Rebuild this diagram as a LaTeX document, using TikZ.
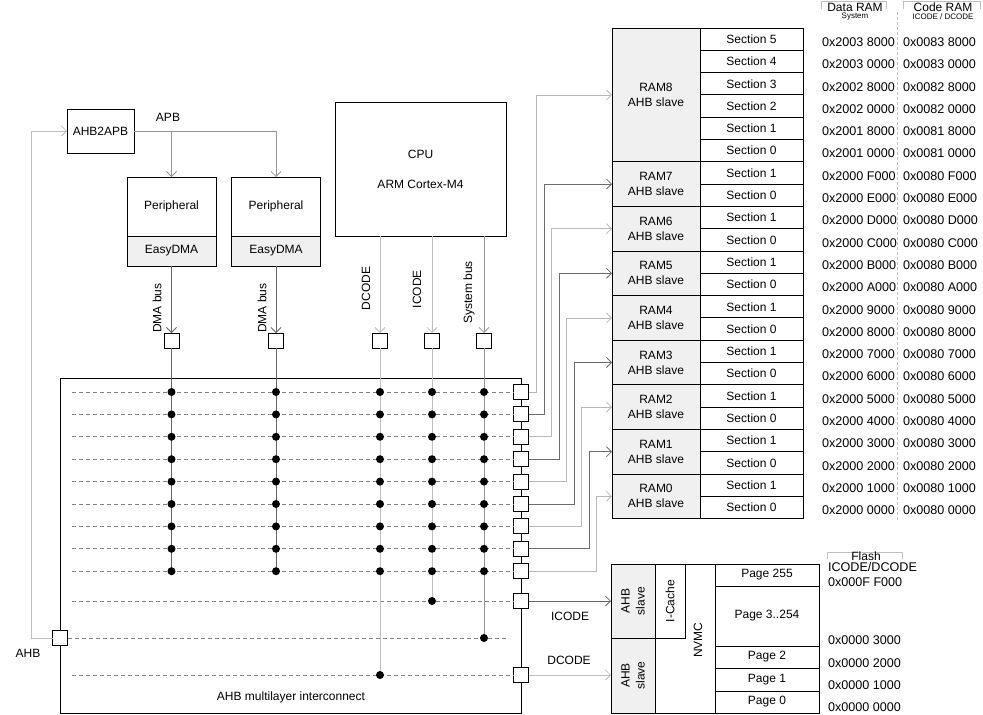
\documentclass[tikz,border=0pt]{standalone}
\usepackage{fontspec}
\setmainfont{Liberation Sans}
\usetikzlibrary{arrows.meta}

\begin{document}
\begin{tikzpicture}[x=1pt,y=-1pt]
	\tikzstyle{every node}=[inner sep=0pt, outer sep=0pt, font=\fontsize{12}{15}\selectfont]
	\tikzstyle{box}=[draw, line width=1pt, align=center]
	\tikzstyle{greybox}=[box, fill=black!6]
	\tikzstyle{port}=[draw, line width=1pt, fill=white, minimum size=15pt]
	\tikzstyle{dot}=[circle, fill=black, minimum size=8pt]
	\tikzstyle{barb}=[-{Straight Barb[length=5pt,width=10pt]}]
	\tikzstyle{dbus}=[draw=black!60, line width=0.8pt]
	\tikzstyle{mbus}=[draw=black!42, line width=0.8pt]
	\tikzstyle{lbus}=[draw=black!25, line width=0.8pt]
	\tikzstyle{rowline}=[draw=black!50, line width=0.7pt, dash pattern=on 4pt off 3pt]
	\tikzstyle{smalltxt}=[font=\fontsize{8}{9}\selectfont]
	\tikzstyle{addr}=[anchor=west, font=\fontsize{12.6}{15}\selectfont]
	\tikzstyle{sect}=[box, minimum width=103pt, minimum height=22.3pt]
	\tikzstyle{ramlbl}=[greybox, minimum width=88pt]
	\tikzstyle{page}=[box, minimum width=104pt]

	\useasboundingbox (0,0) rectangle (983,715);

	\node[box, minimum width=67pt, minimum height=44pt] (apb) at (100.5,131) {AHB2APB};
	\node (apblbl) at (168,117) {APB};
	\foreach \n/\x in {1/171.5,2/276}{
		\node[box, minimum width=89pt, minimum height=59pt] (per\n) at (\x,206.5) {Peripheral};
		\node[greybox, minimum width=89pt, minimum height=30pt, anchor=north] (easy\n) at (per\n.south) {EasyDMA};
	}
	\node[box, minimum width=171pt, minimum height=134pt] (cpu) at (420.5,169) {CPU\\[15pt]ARM Cortex-M4};

	\node[box, minimum width=461pt, minimum height=335pt, anchor=north west] (ic) at (60,378) {};
	\node (iclbl) at (291,697) {AHB multilayer interconnect};

	\foreach \c/\x in {1/171.5,2/276,3/380,4/432,5/484}
		\node[port] (p\c) at (\x,340.5) {};
	\foreach \i in {0,...,8}
		\node[port] (r\i) at (521,{392+22.4*\i}) {};
	\node[port] (ri) at (521,601) {};
	\node[port] (rd) at (521,675) {};
	\node[port] (pa) at (60,638) {};
	\coordinate (lft) at (72,0);
	\coordinate (ahbend) at (507,638);

	\foreach \r in {r0,r1,r2,r3,r4,r5,r6,r7,r8,ri,rd}
		\draw[rowline] (\r.west -| lft) -- (\r.west);
	\draw[rowline] (pa.east) -- (ahbend);

	\draw[dbus] (p1.south) -- (p1 |- r8);
	\draw[dbus] (p2.south) -- (p2 |- r8);
	\draw[lbus] (p3.south) -- (p3 |- rd);
	\draw[lbus] (p4.south) -- (p4 |- ri);
	\draw[mbus] (p5.south) -- (p5 |- pa);
	\foreach \i in {0,...,8}
		\foreach \c in {1,...,5}
			\node[dot] at (p\c |- r\i) {};
	\node[dot] at (p4 |- ri) {};
	\node[dot] at (p5 |- pa) {};
	\node[dot] at (p3 |- rd) {};

	\draw[dbus,barb] (easy1.south) -- (p1.north);
	\draw[dbus,barb] (easy2.south) -- (p2.north);
	\draw[lbus,barb] (cpu.south -| p3) -- (p3.north);
	\draw[lbus,barb] (cpu.south -| p4) -- (p4.north);
	\draw[mbus,barb] (cpu.south -| p5) -- (p5.north);
	\draw[mbus,barb] (apb.east) -| (per1.north);
	\draw[mbus,barb] (apb.east) -| (per2.north);
	\draw[lbus,barb] (pa.west) -- ++(-21.5,0) |- (apb.west);

	\node[rotate=90] at (157,308) {DMA bus};
	\node[rotate=90] at (262,308) {DMA bus};
	\node[rotate=90] at (366,288.5) {DCODE};
	\node[rotate=90] at (417,289) {ICODE};
	\node[rotate=90] at (469,292.5) {System bus};
	\node (ahblbl) at (28,653) {AHB};

	\node[ramlbl, minimum height=133.8pt] (ram8) at (656,{28+3*22.3}) {RAM8\\AHB slave};
	\foreach \n in {0,...,7}
		\node[ramlbl, minimum height=44.6pt] (ram\n) at (656,{28+22.3*(7+2*(7-\n))}) {RAM\n\\AHB slave};
	\foreach \a [count=\k from 0] in {3 8000,3 0000,2 8000,2 0000,1 8000,1 0000,0 F000,0 E000,0 D000,0 C000,0 B000,0 A000,0 9000,0 8000,0 7000,0 6000,0 5000,0 4000,0 3000,0 2000,0 1000,0 0000}{
		\pgfmathtruncatemacro\s{\k<6 ? 5-\k : mod(\k-5,2)}
		\node[sect] (sec\k) at (751.5,{28+22.3*(\k+0.5)}) {Section \s};
		\node[addr] at (822,{31+22.3*(\k+0.5)}) {0x200\a};
		\node[addr] at (903,{31+22.3*(\k+0.5)}) {0x008\a};
	}
	\foreach \i in {0,...,8}{
		\pgfmathtruncatemacro\j{8-\i}
		\pgfmathtruncatemacro\g{mod(\i,2)==0 ? 28 : 58}
		\draw[draw=black!\g, line width=0.8pt, barb] (r\i.east) -- ++({8+7.5*\i},0) |- (ram\j.west);
	}

	\draw[lbus] (821,9) -- (821,1.5) -- (886,1.5) -- (886,9);
	\draw[lbus] (903,9) -- (903,1.5) -- (980,1.5) -- (980,9);
	\node (dram) at (855,7.5) {Data RAM};
	\node[smalltxt] at (855,16.5) {System};
	\node (cram) at (943,7.5) {Code RAM};
	\node[smalltxt] at (943,16.5) {ICODE / DCODE};
	\draw[lbus, dash pattern=on 3pt off 2pt] (897,12) -- (897,520);

	\node[box, minimum width=60pt, minimum height=149pt] (nvmc) at (685,638.5) {};
	\node[box, minimum width=30pt, minimum height=74pt] (icache) at (670,601) {};
	\node[greybox, minimum width=44pt, minimum height=74pt] (ahbi) at (633,601) {};
	\node[greybox, minimum width=44pt, minimum height=75pt] (ahbd) at (633,675.5) {};
	\node[rotate=90, align=center] at (ahbi) {AHB\\slave};
	\node[rotate=90, align=center] at (ahbd) {AHB\\slave};
	\node[rotate=90] at (icache) {I-Cache};
	\node[rotate=90] at (698,640) {NVMC};
	\node[page, minimum height=22pt] (pg255) at (767,575) {Page 255};
	\node[page, minimum height=60pt] (pg3) at (767,616) {Page 3..254};
	\node[page, minimum height=22pt] (pg2) at (767,657) {Page 2};
	\node[page, minimum height=23pt] (pg1) at (767,679.5) {Page 1};
	\node[page, minimum height=22pt] (pg0) at (767,702) {Page 0};

	\draw[dbus,barb] (ri.east) -- (ri.east -| ahbi.west);
	\draw[lbus,barb] (rd.east) -- (rd.east -| ahbd.west);
	\node (icodelbl) at (570,616) {ICODE};
	\node (dcodelbl) at (569,660) {DCODE};

	\draw[lbus] (827,559) -- (827,552) -- (902,552) -- (902,559);
	\node (flash) at (866,556) {Flash};
	\node[addr] at (828,567) {ICODE/DCODE};
	\node[addr] at (828,582) {0x000F F000};
	\node[addr] at (828,640) {0x0000 3000};
	\node[addr] at (828,663) {0x0000 2000};
	\node[addr] at (828,685) {0x0000 1000};
	\node[addr] at (828,707) {0x0000 0000};
\end{tikzpicture}
\end{document}
